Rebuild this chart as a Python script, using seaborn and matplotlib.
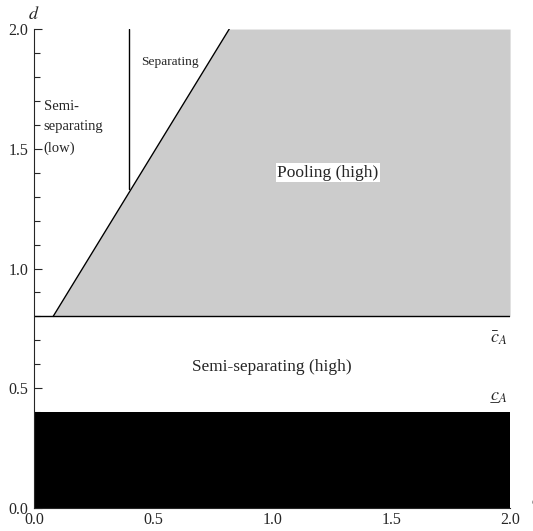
import numpy as np
import pandas as pd
import matplotlib
matplotlib.use("Agg")
import matplotlib.pyplot as plt
import seaborn as sns

# region boundaries
c_low = 0.4        # underline c_A
c_high = 0.8       # bar c_A
diag_x = [0.08, 0.82]
diag_y = [0.8, 2.0]
sep_x = [0.4, 0.4]
sep_y = [1.33, 2.0]
pool_x = [0.08, 0.82, 2.0]
pool_top = [0.8, 2.0, 2.0]
tick_vals = [0, 0.5, 1.0, 1.5, 2.0]
tick_labels = ["0.0", "0.5", "1.0", "1.5", "2.0"]

sns.set_style("ticks")
plt.rcParams["font.family"] = ["Liberation Serif", "DejaVu Serif"]
plt.rcParams["mathtext.fontset"] = "stix"

fig = plt.figure(figsize=(5.33, 5.31), dpi=100)
ax = fig.add_axes([0.064, 0.0433, 0.893, 0.902])

# black region below c_low
ax.fill_between([0, 2], 0, c_low, color="black", lw=0)
# pooling region
ax.fill_between(pool_x, c_high, pool_top, color="#cccccc", lw=0)

lines = pd.DataFrame({"x": diag_x, "y": diag_y})
sns.lineplot(data=lines, x="x", y="y", color="black", lw=1, ax=ax)
sns.lineplot(x=sep_x, y=sep_y, color="black", lw=1, estimator=None, sort=False, ax=ax)
ax.axhline(c_high, color="black", lw=1)

ax.set_xlim(0, 2)
ax.set_ylim(0, 2)
ax.set_xticks(tick_vals)
ax.set_xticklabels(tick_labels)
ax.set_yticks(tick_vals)
ax.set_yticklabels(tick_labels)
ax.set_yticks(np.arange(0, 2.01, 0.1), minor=True)
ax.tick_params(axis="x", length=0, pad=3, labelsize=11.5)
ax.tick_params(axis="y", which="major", direction="in", length=6, width=0.8, pad=4, labelsize=11.5)
ax.tick_params(axis="y", which="minor", direction="in", length=4, width=0.8)
ax.tick_params(axis="x", which="minor", length=0)
sns.despine(ax=ax)
ax.set_xlabel("")
ax.set_ylabel("")

ax.text(0.0, 2.06, "$d$", fontsize=13, ha="center", va="center", clip_on=False)
ax.text(0.04, 1.59, "Semi-\nseparating\n(low)", fontsize=10.5, ha="left", va="center", linespacing=1.75)
ax.text(0.45, 1.8625, "Separating", fontsize=9.6, ha="left", va="center")
ax.text(1.235, 1.40, "Pooling (high)", fontsize=12.5, ha="center", va="center",
        bbox=dict(facecolor="white", edgecolor="none", pad=1))
ax.text(1.0, 0.59, "Semi-separating (high)", fontsize=12.4, ha="center", va="center")
ax.text(1.99, 0.71, r"$\bar{c}_A$", fontsize=13, ha="right", va="center")
ax.text(1.99, 0.465, "$c\u0332_A$", fontsize=13, ha="right", va="center")
ax.text(2.09, 0.03, "$c$", fontsize=12, ha="left", va="center", clip_on=False)

fig.savefig("out.png", dpi=100)
